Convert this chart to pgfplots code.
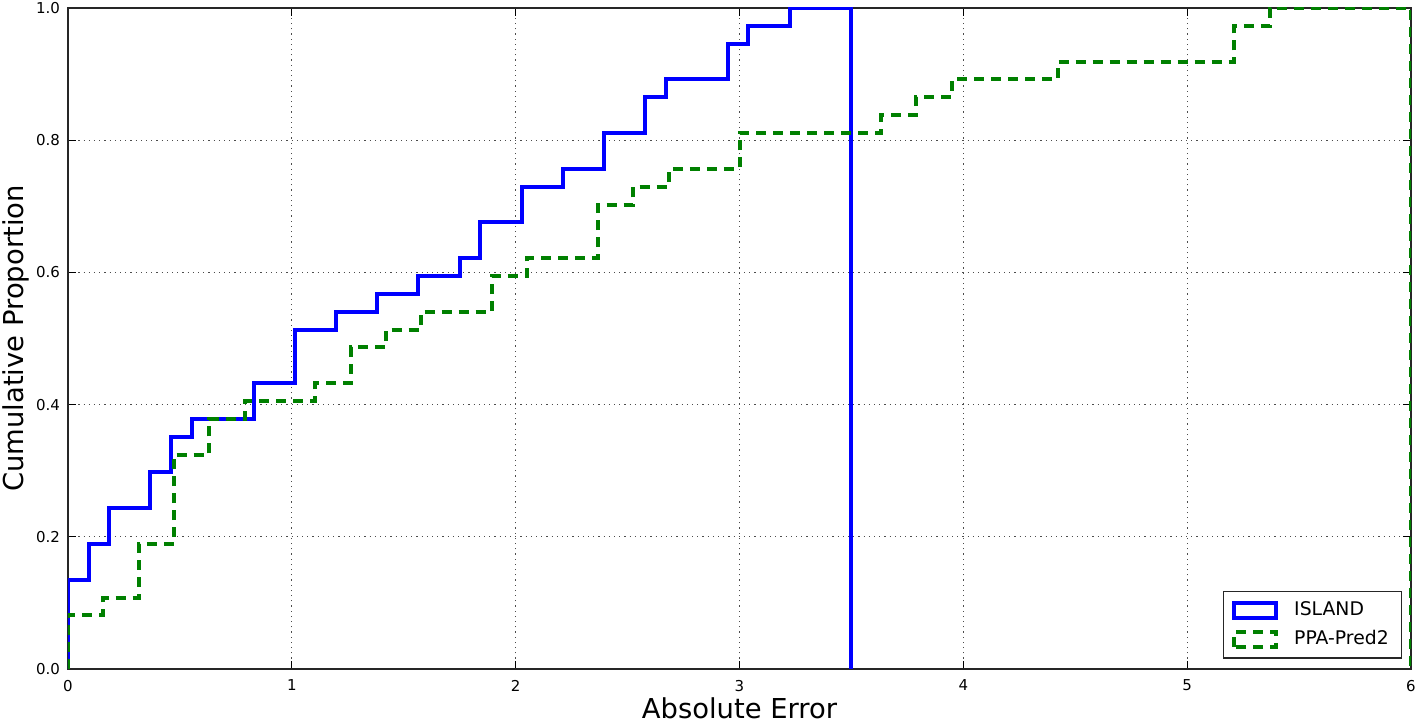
\documentclass[border=0pt]{standalone}
\usepackage{pgfplots}
\pgfplotsset{compat=1.18}
\usepackage{fontspec}
\setmainfont{DejaVu Sans}
\definecolor{mplblue}{rgb}{0,0,1}
\definecolor{mplgreen}{rgb}{0,0.5,0}
\begin{document}
\begin{tikzpicture}
\begin{axis}[
  scale only axis,
  width=671.5bp, height=330.5bp,
  xmin=0, xmax=6, ymin=0, ymax=1,
  xtick={0,1,2,3,4,5,6},
  ytick={0,0.2,0.4,0.6,0.8,1.0},
  /pgf/number format/assume math mode=true,
  yticklabel style={/pgf/number format/fixed, /pgf/number format/fixed zerofill, /pgf/number format/precision=1, font=\fontsize{7.5bp}{9bp}\selectfont, xshift=-0.5bp},
  xticklabel style={font=\fontsize{7.5bp}{9bp}\selectfont, yshift=-2bp},
  tick align=inside,
  major tick length=4bp,
  tick style={black, line width=0.5bp},
  axis line style={black!85, line width=0.75bp},
  grid=major,
  major grid style={black!70, line width=0.6bp, dash pattern=on 0.6bp off 2bp},
  xlabel={Absolute Error},
  ylabel={Cumulative Proportion},
  label style={font=\fontsize{13.7bp}{16bp}\selectfont, inner sep=0pt},
  xlabel style={at={(axis description cs:0.5,-0.0745)}, anchor=base},
  ylabel style={at={(axis description cs:-0.0335,0.5)}, anchor=base},
  legend cell align=left,
  legend image code/.code={\draw[#1] (0bp,-3.75bp) rectangle (21bp,3.75bp);},
  legend style={at={(axis description cs:0.9935,0.0158)}, anchor=south east,
    draw=black!85, line width=0.6bp, fill=white,
    font=\fontsize{9.4bp}{11bp}\selectfont,
    inner xsep=4.5bp, inner ysep=3bp, row sep=2bp, column sep=6bp},
]
\addplot[const plot, mplblue, line width=2bp] coordinates {
(0,0) (0,0.1351) (0.0921,0.1892) (0.1842,0.2432) (0.3684,0.2973) (0.4605,0.3514)
(0.5526,0.3784) (0.8289,0.4324) (1.0132,0.5135) (1.1974,0.5405) (1.3816,0.5676)
(1.5658,0.5946) (1.7500,0.6216) (1.8421,0.6757) (2.0263,0.7297) (2.2105,0.7568)
(2.3947,0.8108) (2.5789,0.8649) (2.6711,0.8919) (2.9474,0.9459) (3.0395,0.9730)
(3.2237,1.0) (3.5,0)
};
\addlegendentry{ISLAND}
\addplot[const plot, mplgreen, line width=2bp, dash pattern=on 5bp off 3.5bp] coordinates {
(0,0) (0,0.0811) (0.1579,0.1081) (0.3158,0.1892) (0.4737,0.3243) (0.6316,0.3784)
(0.7895,0.4054) (1.1053,0.4324) (1.2632,0.4865) (1.4211,0.5135) (1.5789,0.5405)
(1.8947,0.5946) (2.0526,0.6216) (2.3684,0.7027) (2.5263,0.7297) (2.6842,0.7568)
(3.0,0.8108) (3.6316,0.8378) (3.7895,0.8649) (3.9474,0.8919) (4.4211,0.9189)
(5.2105,0.9730) (5.3684,1.0) (6,0)
};
\addlegendentry{PPA-Pred2}
\coordinate (ll) at (rel axis cs:0,0);
\coordinate (ur) at (rel axis cs:1,1);
\end{axis}
\pgfresetboundingbox
\path ([xshift=-34bp,yshift=-27bp]ll) rectangle ([xshift=3.5bp,yshift=4bp]ur);
\end{tikzpicture}
\end{document}
